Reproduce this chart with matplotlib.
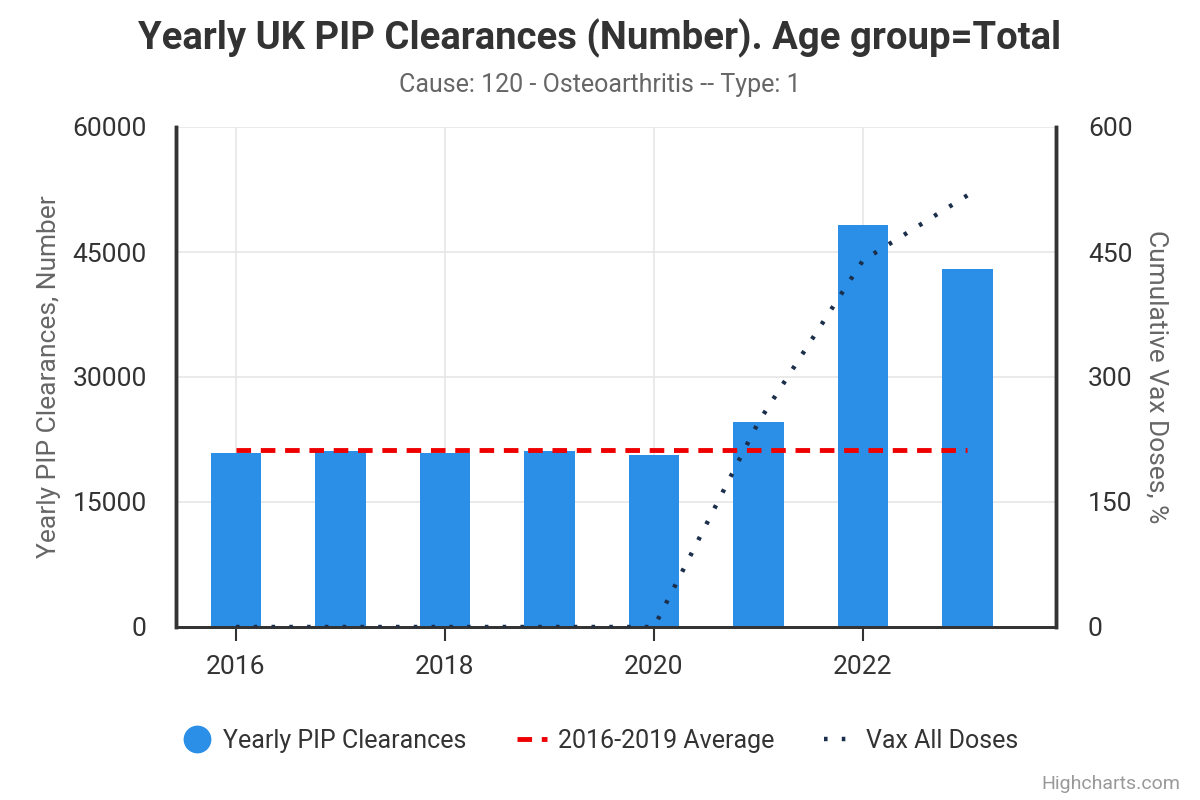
#!/usr/bin/env python3

import matplotlib.pyplot as plt
from matplotlib.lines import Line2D
import numpy as np

plt.rcParams['font.family'] = ['Roboto', 'DejaVu Sans']

years = [2016, 2017, 2018, 2019, 2020, 2021, 2022, 2023]
clearances = [20900, 21100, 20900, 21100, 20700, 24600, 48300, 43000]
avg_years = [2016, 2023]
avg_value = [21250, 21250]
vax_doses = [0, 0, 0, 0, 0, 246, 440, 518]

fig = plt.figure(figsize=(12, 8), dpi=100)
ax1 = fig.add_axes([176 / 1200, 1 - 627 / 800, 880 / 1200, 500 / 800])
ax2 = ax1.twinx()

ax1.bar(years, clearances, width=0.48, color='#2b8fe8', zorder=2)
ax1.plot(avg_years, avg_value, color='#ee0000', lw=3.5, dashes=(3, 2), zorder=3)
ax2.plot(years, vax_doses, color='#1b2f4b', lw=3.2, dashes=(0.8, 3.2), zorder=4)

ax1.set_xlim(2015.426, 2023.847)
ax1.set_ylim(0, 60000)
ax2.set_ylim(0, 600)
ax1.set_xticks([2016, 2018, 2020, 2022])
ax1.set_yticks(np.arange(0, 60001, 15000))
ax2.set_yticks(np.arange(0, 601, 150))

ax1.grid(True, color='#e6e6e6', lw=1.2, zorder=0)
ax1.set_axisbelow(True)
ax2.set_zorder(ax1.get_zorder() + 1)
ax2.patch.set_visible(False)

for ax in (ax1, ax2):
    ax.spines['top'].set_visible(False)
    for side in ('left', 'right', 'bottom'):
        ax.spines[side].set_color('#333333')
    ax.spines['left'].set_linewidth(2.5)
    ax.spines['right'].set_linewidth(2.5)
    ax.spines['bottom'].set_linewidth(2)

ax1.tick_params(axis='x', length=10, width=1.5, color='#333333', labelsize=19,
                labelcolor='#333333', pad=10)
ax1.tick_params(axis='y', length=0, labelsize=19, labelcolor='#333333', pad=21)
ax2.tick_params(axis='y', length=0, labelsize=19, labelcolor='#333333', pad=23)

ax1.set_ylabel('Yearly PIP Clearances, Number', fontsize=19, color='#666666', labelpad=8)
ax2.set_ylabel('Cumulative Vax Doses, %', fontsize=19, color='#666666', rotation=270,
               labelpad=26)

fig.text(0.5, 1 - 38 / 800, 'Yearly UK PIP Clearances (Number). Age group=Total',
         ha='center', va='center', fontsize=27.5, fontweight='bold', color='#333333')
fig.text(0.5, 1 - 85 / 800, 'Cause: 120 - Osteoarthritis -- Type: 1',
         ha='center', va='center', fontsize=18, color='#666666')

handles = [
    Line2D([], [], marker='o', ls='none', color='#2b8fe8', markersize=19),
    Line2D([], [], color='#ee0000', lw=3.5, dashes=(3, 2)),
    Line2D([], [], color='#1b2f4b', lw=3.2, dashes=(0.8, 3.2)),
]
labels = ['Yearly PIP Clearances', '2016-2019 Average', 'Vax All Doses']
fig.legend(handles, labels, loc='center', bbox_to_anchor=(0.5, 1 - 741 / 800),
           ncol=3, frameon=False, fontsize=18, labelcolor='#333333',
           handlelength=1.2, columnspacing=2.0, handletextpad=0.45)

fig.text(1 - 20 / 1200, 1 - 784 / 800, 'Highcharts.com', ha='right', va='center',
         fontsize=14, color='#999999')

fig.savefig('out.png', dpi=100)
